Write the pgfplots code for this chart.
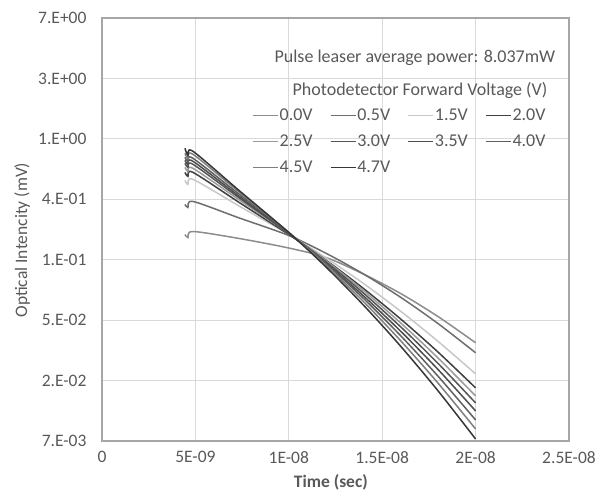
\documentclass[border=0pt]{standalone}
\usepackage{fontspec}
\setmainfont{Carlito}
\usepackage{pgfplots}
\usepackage{pgfplotstable}
\pgfplotsset{compat=1.18}
\definecolor{txt}{HTML}{595959}
\definecolor{gridc}{HTML}{D9D9D9}
\definecolor{axc}{HTML}{A6A6A6}
\definecolor{c00}{HTML}{8C8C8C}
\definecolor{c05}{HTML}{6E6E6E}
\definecolor{c15}{HTML}{C8C8C8}
\definecolor{c20}{HTML}{404040}
\definecolor{c25}{HTML}{9A9A9A}
\definecolor{c30}{HTML}{555555}
\definecolor{c35}{HTML}{4D4D4D}
\definecolor{c40}{HTML}{5F5F5F}
\definecolor{c45}{HTML}{7F7F7F}
\definecolor{c47}{HTML}{363636}
\pgfplotstableread{
t       v00      v05      v15      v20      v25      v30      v35      v40      v45      v47
4.44e-9 0.2054   0.3378   0.5030   0.5743   0.6240   0.6668   0.7008   0.7366   0.7871   0.8552
4.60e-9 0.1954   0.3214   0.4707   0.5375   0.5839   0.6240   0.6558   0.6893   0.7245   0.7614
4.87e-9 0.2158   0.3550   0.5114   0.5743   0.6137   0.6558   0.6893   0.7245   0.7742   0.8137
7.35e-9 0.1922   0.2700   0.3284   0.3486   0.3640   0.3762   0.3864   0.3994   0.4135   0.4240
1.0e-8  0.1642   0.2020   0.2054   0.2054   0.2088   0.2088   0.2088   0.2123   0.2123   0.2123
1.2e-8  0.14022  0.15034  0.13929  0.13408  0.13297  0.13035  0.12757  0.12610  0.12300  0.11958
1.4e-8  0.10665  0.10682  0.09125  0.08399  0.08111  0.07782  0.07428  0.07127  0.06758  0.06377
1.6e-8  0.07717  0.07246  0.05754  0.05056  0.04739  0.04442  0.04129  0.03832  0.03527  0.03220
1.8e-8  0.052695 0.046919 0.034923 0.029243 0.026517 0.024245 0.021912 0.019607 0.017487 0.01539
2.0e-8  0.034235 0.029001 0.020471 0.016229 0.014212 0.012654 0.011081 0.009545 0.008221 0.006964
}\data
\newcommand{\fs}{\fontsize{17.5}{20}\selectfont}
\newcommand{\fl}{\fontsize{18}{20}\selectfont}
\begin{document}
\begin{tikzpicture}
\useasboundingbox (-102pt,-56pt) rectangle (499pt,423pt+18pt);
\begin{axis}[
  at={(0,0)}, anchor=south west,
  width=467pt, height=423pt, scale only axis,
  xmin=0, xmax=2.5e-8,
  ymode=log, ymin=0.0067378, ymax=7.38906,
  xtick={0,5e-9,1e-8,1.5e-8,2e-8,2.5e-8},
  xticklabels={0,5E-09,1E-08,1.5E-08,2E-08,2.5E-08},
  ytick={0.0067379,0.0183156,0.0497871,0.1353353,0.3678794,1,2.7182818,7.3890561},
  yticklabels={7.E-03,2.E-02,5.E-02,1.E-01,4.E-01,1.E+00,3.E+00,7.E+00},
  scaled x ticks=false,
  grid=major, major grid style={gridc, line width=0.8pt},
  axis line style={axc, line width=1.1pt},
  major tick length=0pt, minor tick num=0,
  ticklabel style={font=\fs, text=txt},
  xticklabel style={yshift=-7pt},
  yticklabel style={xshift=-12pt},
  xlabel={\textbf{Time (sec)}},
  ylabel={Optical Intencity (mV)},
  label style={font=\fs, text=txt},
  xlabel style={at={(axis description cs:0.49,-0.097)}, anchor=center},
  ylabel style={at={(axis description cs:-0.171,0.475)}, anchor=center},
  legend columns=4,
  legend image code/.code={\draw[#1, line width=1.6pt] (0pt,0pt) -- (25pt,0pt);},
  legend style={at={(rel axis cs:0.321,0.79)}, anchor=north west,
    draw=none, fill=none, inner sep=0pt, font=\fl, text=txt,
    nodes={inner sep=1pt, text height=12pt, text depth=3pt}, row sep=9pt,
    /tikz/every even column/.append style={column sep=16pt}},
  every axis plot/.append style={line width=1.5pt, smooth, tension=0.5},
]
\addplot[c00] table[x=t,y=v00]{\data};
\addlegendentry{0.0V}
\addplot[c05] table[x=t,y=v05]{\data};
\addlegendentry{0.5V}
\addplot[c15] table[x=t,y=v15]{\data};
\addlegendentry{1.5V}
\addplot[c20] table[x=t,y=v20]{\data};
\addlegendentry{2.0V}
\addplot[c25] table[x=t,y=v25]{\data};
\addlegendentry{2.5V}
\addplot[c30] table[x=t,y=v30]{\data};
\addlegendentry{3.0V}
\addplot[c35] table[x=t,y=v35]{\data};
\addlegendentry{3.5V}
\addplot[c40] table[x=t,y=v40]{\data};
\addlegendentry{4.0V}
\addplot[c45] table[x=t,y=v45]{\data};
\addlegendentry{4.5V}
\addplot[c47] table[x=t,y=v47]{\data};
\addlegendentry{4.7V}
\node[font=\fl, text=txt] at (rel axis cs:0.670,0.906) {Pulse leaser average power: 8.037mW};
\node[font=\fl, text=txt] at (rel axis cs:0.681,0.829) {Photodetector Forward Voltage (V)};
\end{axis}
\end{tikzpicture}
\end{document}
